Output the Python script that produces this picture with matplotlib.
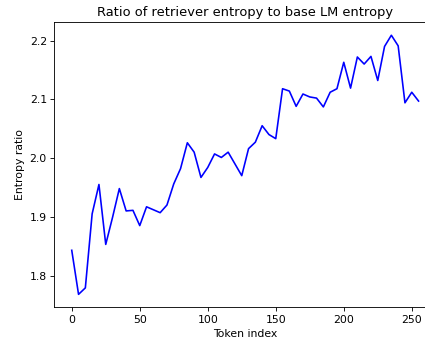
import matplotlib
matplotlib.use("Agg")
import matplotlib.pyplot as plt
import numpy as np

# token positions (every 5th token) and entropy ratio
token_index = np.arange(0, 256, 5)
entropy_ratio = [
    1.843, 1.768, 1.779, 1.905, 1.955, 1.853, 1.899, 1.948, 1.910, 1.911,
    1.885, 1.917, 1.912, 1.907, 1.920, 1.956, 1.982, 2.026, 2.010, 1.967,
    1.984, 2.007, 2.001, 2.010, 1.990, 1.970, 2.016, 2.027, 2.055, 2.040,
    2.033, 2.118, 2.114, 2.088, 2.109, 2.104, 2.102, 2.087, 2.112, 2.118,
    2.163, 2.119, 2.172, 2.160, 2.173, 2.132, 2.190, 2.209, 2.191, 2.094,
    2.112, 2.097,
]

# the original looks like a bigger figure shrunk down, so scale everything
s = 0.78
plt.rcParams.update({
    "font.size": 10 * s,
    "axes.titlesize": 12 * s,
    "axes.linewidth": 0.8 * s,
    "xtick.major.size": 3.5 * s,
    "ytick.major.size": 3.5 * s,
    "xtick.major.width": 0.8 * s,
    "ytick.major.width": 0.8 * s,
    "xtick.major.pad": 3.5 * s,
    "ytick.major.pad": 3.5 * s,
    "axes.labelpad": 4.0 * s,
    "axes.titlepad": 6.0 * s,
})

fig = plt.figure(figsize=(4.25, 3.43), dpi=100)
# axes runs past the right edge, like the cropped original
ax = fig.add_axes([54.4 / 425, (343 - 307.3) / 343, 381.5 / 425, 285.0 / 343])

ax.plot(token_index, entropy_ratio, color="blue", linewidth=1.5 * s)

ax.set_xticks([0, 50, 100, 150, 200, 250])
ax.set_yticks([1.8, 1.9, 2.0, 2.1, 2.2])
ax.set_xlabel("Token index")
ax.set_ylabel("Entropy ratio")
ax.set_title("Ratio of retriever entropy to base LM entropy")

fig.savefig("out.png", dpi=100)
